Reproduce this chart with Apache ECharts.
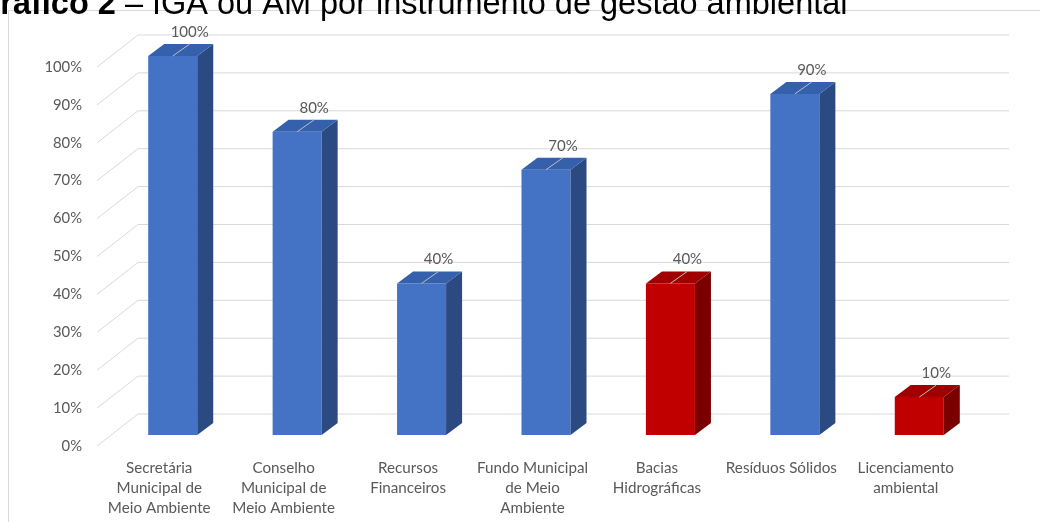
<!DOCTYPE html>
<html>
<head>
<meta charset="utf-8">
<script src="https://cdn.jsdelivr.net/npm/echarts@6/dist/echarts.min.js"></script>
<style>html,body{margin:0;padding:0;background:#fff;}#c{width:1040px;height:522px;}</style>
</head>
<body>
<div id="c"></div>
<script>
const categories = ['Secretária\nMunicipal de\nMeio Ambiente', 'Conselho\nMunicipal de\nMeio Ambiente', 'Recursos\nFinanceiros', 'Fundo Municipal\nde Meio\nAmbiente', 'Bacias\nHidrográficas', 'Resíduos Sólidos', 'Licenciamento\nambiental'];
const values = [100, 80, 40, 70, 40, 90, 10];
const colorGroup = ['blue', 'blue', 'blue', 'blue', 'red', 'blue', 'red'];
const yTicks = [0, 10, 20, 30, 40, 50, 60, 70, 80, 90, 100];
const titleBold = 'Gráfico 2';
const titleRest = ' – IGA ou AM por instrumento de gestão ambiental';

const palette = {
  blue: { front: '#4472C4', top: '#3560AC', side: '#2B4A82' },
  red: { front: '#C00000', top: '#A00000', side: '#7A0000' }
};
const DEPTH = [41, -32];     // full floor depth vector
const BAR_OFF = [13.5, -11]; // bar front face offset from front plane
const BAR_D = [16, -12];     // bar depth
const FONT = 'Lato, "Liberation Sans", sans-serif';

const chart = echarts.init(document.getElementById('c'), null, { renderer: 'canvas' });

const option = {
  backgroundColor: '#ffffff',
  animation: false,
  graphic: [
    { type: 'rect', shape: { x: 8.5, y: 10.5, width: 1100, height: 600 }, style: { fill: 'none', stroke: '#D9D9D9', lineWidth: 1 }, z: -10 },
    { type: 'text', x: -25, y: 5, style: {
        text: '{b|' + titleBold + '}' + titleRest,
        font: '32.5px "Liberation Sans", Arial, sans-serif', fill: '#000',
        verticalAlign: 'middle', align: 'left',
        rich: { b: { font: 'bold 32.5px "Liberation Sans", Arial, sans-serif', fill: '#000' } }
      } }
  ],
  grid: { left: 97, right: 72, top: 67, bottom: 76 },
  xAxis: {
    type: 'category', data: categories,
    axisLine: { show: false }, axisTick: { show: false }, splitLine: { show: false },
    axisLabel: { color: '#595959', fontSize: 15.2, fontFamily: FONT, lineHeight: 20, margin: 12, interval: 0 }
  },
  yAxis: {
    type: 'value', min: 0, max: 100, interval: 10,
    axisLine: { show: false }, axisTick: { show: false }, splitLine: { show: false },
    axisLabel: { color: '#595959', fontSize: 14.8, fontFamily: FONT, margin: 15, formatter: '{value}%' }
  },
  series: [
    {
      type: 'custom', z: 1, silent: true,
      data: yTicks.map(v => [0, v]),
      renderItem: function (params, api) {
        const cs = params.coordSys;
        const y = api.coord([0, api.value(1)])[1];
        const l = cs.x, r = cs.x + cs.width;
        return {
          type: 'polyline',
          shape: { points: [[l, y], [l + DEPTH[0], y + DEPTH[1]], [r + DEPTH[0], y + DEPTH[1]]] },
          style: { stroke: '#D9D9D9', lineWidth: 1, fill: null }
        };
      }
    },
    {
      type: 'custom', z: 2, silent: true,
      data: values.map((v, i) => [i, v]),
      renderItem: function (params, api) {
        const i = api.value(0), v = api.value(1);
        const c = api.coord([i, v]);
        const b = api.coord([i, 0]);
        const band = api.size([1, 0])[0];
        const w = band * 0.394;
        const cx = c[0] + BAR_OFF[0];
        const x0 = cx - w / 2, x1 = cx + w / 2;
        const top = c[1] + BAR_OFF[1], bot = b[1] + BAR_OFF[1];
        const col = palette[colorGroup[params.dataIndex]];
        const dx = BAR_D[0], dy = BAR_D[1];
        return {
          type: 'group',
          children: [
            { type: 'rect', shape: { x: x0, y: top, width: w, height: bot - top }, style: { fill: col.front } },
            { type: 'polygon', shape: { points: [[x1, top], [x1 + dx, top + dy], [x1 + dx, bot + dy], [x1, bot]] }, style: { fill: col.side } },
            { type: 'polygon', shape: { points: [[x0, top], [x1, top], [x1 + dx, top + dy], [x0 + dx, top + dy]] }, style: { fill: col.top } },
            { type: 'line', shape: { x1: cx, y1: top, x2: cx + dx + 1, y2: top + dy }, style: { stroke: '#BFBFBF', lineWidth: 1 } },
            { type: 'text', x: cx + dx + 1, y: top + dy - 12, style: { text: v + '%', fill: '#595959', font: '15px ' + FONT, align: 'center', verticalAlign: 'middle' } }
          ]
        };
      }
    }
  ]
};
chart.setOption(option);
</script>
</body>
</html>
